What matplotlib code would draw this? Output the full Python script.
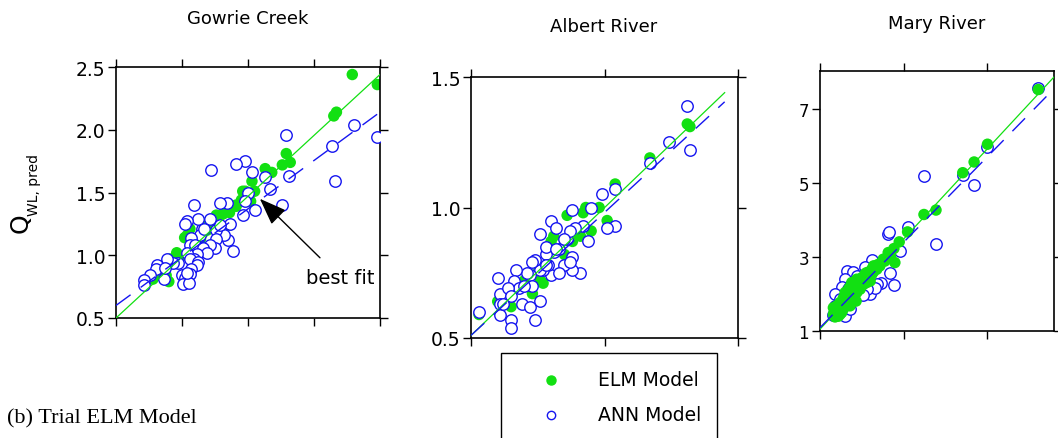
import matplotlib
matplotlib.use('Agg')
import matplotlib.pyplot as plt
from matplotlib.lines import Line2D
from matplotlib.patches import Rectangle
import numpy as np

W, H = 1058, 439

# --- Gowrie Creek ---
gowrie_elm_x = [2.29, 2.48, 2.15, 2.17, 1.79, 1.82, 1.76, 1.63, 1.68, 1.53, 1.55, 1.48, 1.52, 1.41,
                1.36, 1.31, 1.24, 1.21, 1.19, 1.06, 1.02, 1.10, 0.96, 0.91, 0.88, 0.90, 0.81, 0.78,
                1.09, 1.14, 1.36, 1.26, 1.04, 1.31, 1.41, 1.46, 1.21, 0.86, 0.99, 1.16, 1.45]
gowrie_elm_y = [2.44, 2.36, 2.11, 2.14, 1.81, 1.74, 1.72, 1.69, 1.66, 1.59, 1.51, 1.51, 1.43, 1.40,
                1.34, 1.33, 1.26, 1.28, 1.20, 1.21, 1.14, 1.09, 1.02, 0.97, 0.84, 0.79, 0.84, 0.81,
                1.05, 1.13, 1.24, 1.32, 1.16, 1.33, 1.39, 1.51, 1.27, 0.88, 0.99, 1.18, 1.44]
gowrie_ann_x = [2.30, 2.48, 2.14, 2.16, 1.79, 1.81, 1.76, 1.67, 1.63, 1.55, 1.53, 1.48, 1.41, 1.50,
                1.48, 1.46, 1.22, 1.34, 1.29, 1.36, 1.39, 1.35, 1.32, 1.26, 1.26, 1.25, 1.21, 1.21,
                1.15, 1.14, 1.12, 1.09, 1.04, 1.02, 1.07, 1.06, 1.10, 1.16, 1.19, 1.11, 1.09, 1.04,
                1.06, 1.12, 1.11, 1.07, 1.06, 1.00, 1.02, 1.01, 1.05, 1.04, 0.97, 0.93, 0.88, 0.89,
                0.81, 0.80, 0.76, 0.71, 0.71, 0.86, 0.87, 1.17, 1.29]
gowrie_ann_y = [2.04, 1.94, 1.87, 1.59, 1.96, 1.63, 1.40, 1.53, 1.62, 1.36, 1.66, 1.75, 1.73, 1.50,
                1.43, 1.32, 1.68, 1.42, 1.42, 1.25, 1.03, 1.12, 1.16, 1.20, 1.13, 1.06, 1.29, 1.08,
                1.21, 1.16, 1.29, 1.40, 1.27, 1.25, 1.14, 1.08, 1.08, 1.06, 1.02, 1.01, 0.97, 1.02,
                0.97, 0.95, 0.92, 0.89, 0.85, 0.84, 0.82, 0.77, 0.78, 0.86, 0.94, 0.94, 0.93, 0.97,
                0.92, 0.89, 0.84, 0.80, 0.76, 0.81, 0.90, 1.21, 1.24]

# --- Albert River ---
albert_elm_x = [1.31, 1.32, 1.17, 1.04, 1.01, 0.98, 0.95, 0.93, 0.92, 0.86, 0.91, 0.88, 0.85,
                0.81, 0.80, 0.77, 0.73, 0.70, 0.65, 0.60, 0.53, 0.76, 0.75]
albert_elm_y = [1.32, 1.31, 1.19, 1.09, 0.95, 1.00, 0.91, 1.00, 0.98, 0.97, 0.89, 0.87, 0.82,
                0.89, 0.87, 0.71, 0.67, 0.72, 0.62, 0.64, 0.59, 0.72, 0.75]
albert_ann_x = [1.31, 1.32, 1.24, 1.17, 1.04, 1.04, 1.01, 0.99, 0.95, 0.88, 0.80, 0.76, 0.92,
                0.94, 0.91, 0.88, 0.88, 0.85, 0.82, 0.86, 0.89, 0.87, 0.83, 0.81, 0.78, 0.78,
                0.80, 0.83, 0.79, 0.77, 0.76, 0.74, 0.73, 0.72, 0.73, 0.71, 0.67, 0.66, 0.68,
                0.69, 0.72, 0.76, 0.74, 0.65, 0.65, 0.60, 0.61, 0.61, 0.61, 0.64, 0.65, 0.53,
                0.62, 0.70, 0.78, 0.82, 0.85, 0.87]
albert_ann_y = [1.39, 1.22, 1.25, 1.17, 1.07, 0.93, 0.92, 1.05, 1.00, 0.99, 0.95, 0.90, 0.93,
                0.87, 0.75, 0.76, 0.81, 0.78, 0.92, 0.88, 0.92, 0.91, 0.84, 0.83, 0.82, 0.85,
                0.74, 0.75, 0.78, 0.76, 0.76, 0.80, 0.79, 0.74, 0.70, 0.75, 0.76, 0.72, 0.69,
                0.63, 0.62, 0.64, 0.57, 0.57, 0.54, 0.73, 0.67, 0.63, 0.59, 0.69, 0.66, 0.60,
                0.63, 0.70, 0.78, 0.84, 0.88, 0.79]

# --- Mary River ---
mary_elm_x = [7.53, 6.01, 5.61, 5.27, 4.47, 4.11, 3.62, 3.37, 3.21, 3.04, 3.24, 2.89, 2.74, 2.60,
              2.55, 2.40, 2.25, 2.10, 2.05, 1.95, 1.85, 1.75, 1.70, 1.60, 1.50, 1.45, 1.40, 1.52,
              1.65, 2.08, 2.30, 2.45, 2.70, 1.95, 1.80, 2.18, 2.50, 1.90, 1.60, 1.40, 2.55, 2.79,
              2.20, 2.00, 1.85, 2.65, 2.94, 3.11, 2.30, 1.75, 2.10, 1.55, 2.40,
              1.45, 1.55, 1.70, 1.85, 2.00, 2.15, 2.30, 1.60, 1.45, 1.70, 2.00, 2.25, 1.90,
              2.35, 2.60, 1.55]
mary_elm_y = [7.53, 6.05, 5.57, 5.28, 4.27, 4.15, 3.68, 3.41, 3.23, 3.12, 2.85, 2.94, 2.80, 2.76,
              2.67, 2.58, 2.44, 2.40, 2.22, 2.31, 2.13, 2.04, 1.90, 1.77, 1.68, 1.54, 1.63, 1.45,
              1.50, 1.81, 2.26, 2.49, 2.67, 2.04, 1.86, 2.22, 2.35, 1.68, 1.54, 1.45, 2.53, 2.76,
              2.13, 1.95, 1.81, 2.76, 2.89, 3.03, 2.40, 1.81, 2.04, 1.63, 2.31,
              1.62, 1.70, 1.75, 1.95, 2.10, 2.30, 2.45, 1.45, 1.38, 1.60, 2.25, 2.30, 2.20,
              2.55, 2.60, 1.40]
mary_ann_x = [7.53, 6.01, 5.61, 5.27, 4.47, 4.11, 3.62, 3.04, 3.07, 3.39, 3.09, 3.21, 2.81, 2.70,
              2.55, 2.35, 1.80, 2.00, 2.10, 1.75, 1.65, 1.45, 1.85, 2.50, 2.65, 2.40, 2.20, 1.45,
              1.55, 1.75, 1.90, 1.40, 2.00, 2.30, 1.90, 1.60, 2.15]
mary_ann_y = [7.58, 5.97, 4.94, 5.23, 3.34, 5.19, 3.82, 3.61, 3.68, 3.16, 2.56, 2.24, 2.31, 2.26,
              2.91, 2.74, 2.62, 2.59, 2.49, 2.40, 2.20, 2.00, 2.13, 2.00, 2.17, 2.13, 2.04, 1.68,
              1.54, 1.41, 1.59, 1.42, 1.86, 1.96, 2.23, 1.86, 2.35]

# fitted lines: (slope, intercept, x_start, x_end)
gowrie_elm_fit = (0.970, 0.015, 0.5, 2.5)
gowrie_ann_fit = (0.770, 0.215, 0.5, 2.5)
albert_elm_fit = (0.979, 0.0205, 0.5, 1.45)
albert_ann_fit = (0.942, 0.039, 0.5, 1.45)
mary_elm_fit = (0.974, 0.076, 1.0, 8.0)
mary_ann_fit = (0.923, 0.167, 1.0, 7.88)

titles = ['Gowrie Creek', 'Albert River', 'Mary River']

GREEN = '#12e012'
BLUE = '#1515f0'
MS = 68


def box(l, t, r, b):
    return [l / W, 1 - b / H, (r - l) / W, (b - t) / H]


fig = plt.figure(figsize=(W / 100, H / 100), dpi=100)
plt.rcParams['font.family'] = 'DejaVu Sans'

panels = [
    dict(rect=box(116, 68, 380, 319), xlim=(0.5, 2.5), ylim=(0.5, 2.5),
         xt=[0.5, 1.0, 1.5, 2.0, 2.5], yt=[0.5, 1.0, 1.5, 2.0, 2.5], ylab=['0.5', '1.0', '1.5', '2.0', '2.5'],
         ex=gowrie_elm_x, ey=gowrie_elm_y, ax_=gowrie_ann_x, ay=gowrie_ann_y,
         ef=gowrie_elm_fit, af=gowrie_ann_fit, fs=13.5, title_xy=(248, 19), green_top=False),
    dict(rect=box(471, 78, 738, 339), xlim=(0.5, 1.5), ylim=(0.5, 1.5),
         xt=[0.5, 1.0, 1.5], yt=[0.5, 1.0, 1.5], ylab=['0.5', '1.0', '1.5'],
         ex=albert_elm_x, ey=albert_elm_y, ax_=albert_ann_x, ay=albert_ann_y,
         ef=albert_elm_fit, af=albert_ann_fit, fs=13.5, title_xy=(604, 27), green_top=False),
    dict(rect=box(820, 72, 1054, 332), xlim=(1.0, 8.0), ylim=(1.0, 8.03),
         xt=[1.0, 3.5, 6.0], yt=[1, 3, 5, 7], ylab=['1', '3', '5', '7'],
         ex=mary_elm_x, ey=mary_elm_y, ax_=mary_ann_x, ay=mary_ann_y,
         ef=mary_elm_fit, af=mary_ann_fit, fs=12, title_xy=(937, 24), green_top=True),
]

for p, title in zip(panels, titles):
    ax = fig.add_axes(p['rect'])
    gz, bz = (3, 2) if p['green_top'] else (2, 3)
    ax.scatter(p['ex'], p['ey'], s=MS, color=GREEN, edgecolors='none', zorder=gz)
    ax.scatter(p['ax_'], p['ay'], s=MS, facecolors='white', edgecolors=BLUE, linewidths=1.0, zorder=bz)
    k, b, x0, x1 = p['ef']
    xs = np.array([x0, x1])
    ax.plot(xs, k * xs + b, color=GREEN, lw=0.9, zorder=4)
    k, b, x0, x1 = p['af']
    xs = np.array([x0, x1])
    ax.plot(xs, k * xs + b, color=BLUE, lw=1.0, dashes=(13, 9), zorder=4)
    ax.set_xlim(p['xlim'])
    ax.set_ylim(p['ylim'])
    ax.set_xticks(p['xt'])
    ax.set_yticks(p['yt'])
    ax.set_yticklabels(p['ylab'])
    ax.tick_params(direction='out', length=5.8, width=1.0, top=True, right=True,
                   labelbottom=False, labelsize=p['fs'], pad=2)
    for s in ax.spines.values():
        s.set_linewidth(1.2)
    tx, ty = p['title_xy']
    fig.text(tx / W, 1 - ty / H, title, ha='center', va='center', fontsize=13)

    if title == 'Gowrie Creek':
        ax.annotate('best fit', xy=(1.59, 1.45), xytext=(2.2, 0.82), ha='center', va='center',
                    fontsize=14,
                    arrowprops=dict(arrowstyle='-|>,head_length=1.2,head_width=0.45',
                                    color='black', lw=1.0, shrinkA=8, shrinkB=0))

# y axis label
fig.text(21 / W, 1 - 223 / H, 'Q', rotation=90, ha='center', va='center', fontsize=18)
fig.text(34 / W, 1 - 185 / H, 'WL, pred', rotation=90, ha='center', va='center', fontsize=10)

# legend box (extends past the lower edge)
fig.add_artist(Rectangle((501 / W, 1 - 460 / H), 216 / W, 106 / H, transform=fig.transFigure,
                         facecolor='white', edgecolor='black', lw=1.0))
fig.add_artist(Line2D([551 / W], [1 - 381 / H], marker='o', markersize=6.5, color=GREEN,
                      markeredgecolor=GREEN, linestyle='none', transform=fig.transFigure))
fig.add_artist(Line2D([551 / W], [1 - 416 / H], marker='o', markersize=6, markerfacecolor='white',
                      markeredgecolor=BLUE, markeredgewidth=1.0, linestyle='none', transform=fig.transFigure))
fig.text(598 / W, 1 - 381 / H, 'ELM Model', ha='left', va='center', fontsize=13.5)
fig.text(598 / W, 1 - 416 / H, 'ANN Model', ha='left', va='center', fontsize=13.5)

fig.text(7 / W, 1 - 419 / H, '(b) Trial ELM Model', ha='left', va='center', fontsize=16,
         family='Liberation Serif')

fig.savefig('out.png', dpi=100)
